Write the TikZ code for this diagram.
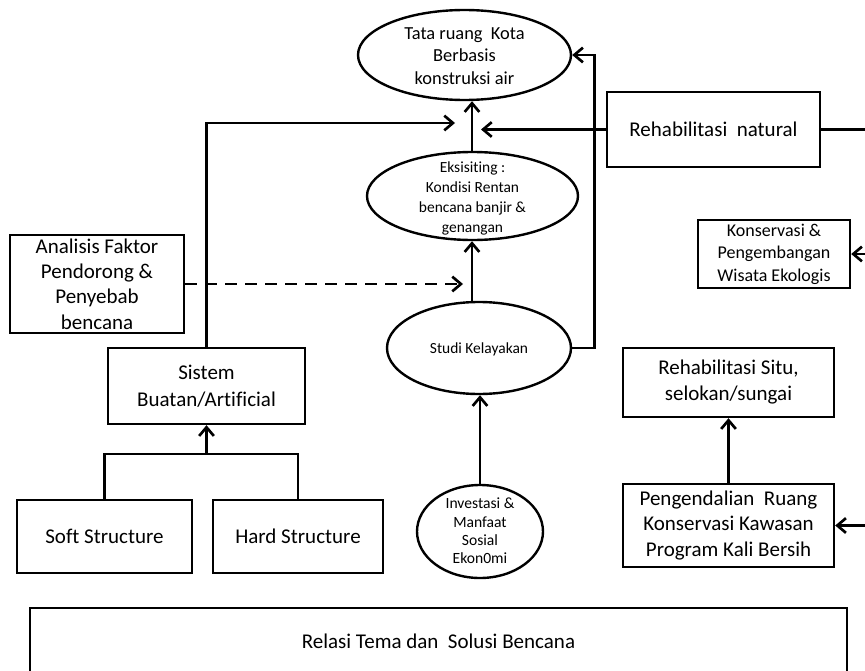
\documentclass[tikz,border=0pt]{standalone}
\usepackage{fontspec}
\setmainfont{Carlito}[Ligatures={NoCommon,NoRequired,NoContextual}]
\usetikzlibrary{shapes.geometric,arrows.meta}
\begin{document}
\begin{tikzpicture}[x=0.75pt,y=-0.75pt,
  every node/.style={inner sep=0pt, align=center},
  big/.style={font=\fontsize{15.75}{19.5}\selectfont},
  small/.style={font=\fontsize{11.6}{14.6}\selectfont},
  boxst/.style={draw, line width=1.8pt, rectangle},
  ellst/.style={draw, line width=1.8pt, ellipse},
  conn/.style={line width=2pt},
  arr/.style={conn, -{Straight Barb[length=6.5pt,width=11pt,line width=2pt]}},
  dashline/.style={conn, dash pattern=on 9pt off 6pt, -{Straight Barb[length=6.5pt,width=11pt,line width=2pt]}},
]
\useasboundingbox (0,0) rectangle (865,671);

% ellipses
\node[ellst, minimum width=213*0.75pt, minimum height=90*0.75pt] (tata) at (464.5,55) {};
\node[font=\fontsize{13.8}{17}\selectfont] (tatat) at (464.5,56) {Tata ruang\ \ Kota\\Berbasis\\konstruksi air};

\node[ellst, minimum width=211*0.75pt, minimum height=88*0.75pt] (eks) at (472.5,196) {};
\node[font=\fontsize{11.6}{15}\selectfont] (ekst) at (472.5,198) {Eksisiting :\\Kondisi Rentan\\bencana banjir \&\\genangan};

\node[ellst, minimum width=184*0.75pt, minimum height=92*0.75pt] (studi) at (479,348) {};
\node[small] (studit) at (479,349) {Studi Kelayakan};

\node[ellst, minimum width=126*0.75pt, minimum height=93*0.75pt] (inv) at (480,531.5) {};
\node[font=\fontsize{11.7}{13.8}\selectfont] (invt) at (480,531) {Investasi \&\\Manfaat\\Sosial\\Ekon0mi};

% boxes
\node[boxst, big, minimum width=213*0.75pt, minimum height=75*0.75pt] (rehabn) at (713.5,129.5) {Rehabilitasi\ \ natural};
\node[boxst, font=\fontsize{13.5}{16.9}\selectfont, minimum width=152*0.75pt, minimum height=68*0.75pt] (kons) at (774,254) {Konservasi \&\\Pengembangan\\Wisata Ekologis};
\node[boxst, big, minimum width=211*0.75pt, minimum height=69*0.75pt] (situ) at (728.5,382.5) {Rehabilitasi Situ,\\selokan/sungai};
\node[boxst, font=\fontsize{15.75}{19}\selectfont, minimum width=211*0.75pt, minimum height=83*0.75pt] (peng) at (728.5,525.5) {Pengendalian\ \ Ruang\\Konservasi Kawasan\\Program Kali Bersih};
\node[boxst, font=\fontsize{15.75}{19}\selectfont, minimum width=174*0.75pt, minimum height=98*0.75pt] (anal) at (97,284) {Analisis Faktor\\Pendorong \&\\Penyebab\\bencana};
\node[boxst, font=\fontsize{15.75}{20}\selectfont, minimum width=197*0.75pt, minimum height=76*0.75pt] (sistem) at (206.5,386) {Sistem\\Buatan/Artificial};
\node[boxst, big, minimum width=175*0.75pt, minimum height=73*0.75pt] (soft) at (104.5,536.5) {Soft Structure};
\node[boxst, big, minimum width=170*0.75pt, minimum height=73*0.75pt] (hard) at (298,536.5) {Hard Structure};
\node[boxst, big, minimum width=817*0.75pt, minimum height=66*0.75pt] (relasi) at (438.5,641) {Relasi Tema dan\ \ Solusi Bencana};

% free ends
\coordinate (rn) at (481,129.5);
\coordinate (sa) at (455,123);
\coordinate (da) at (463,284);
\coordinate (e1) at (867,129.5);
\coordinate (e2) at (867,254);
\coordinate (e3) at (867,525.5);
\coordinate (j) at (206.5,454);

% connectors
\draw[arr] (eks.north -| 472,0) -- (tata.south -| 472,0);
\draw[arr] (472,0 |- studi.north) -- (472,0 |- eks.south);
\draw[arr] (inv.north) -- (inv.north |- studi.south);
\draw[arr] (studi.east) -- ++(22,0) |- (tata.east);
\draw[arr] (rehabn.west) -- (rn);
\draw[conn] (rehabn.east) -- (e1);
\draw[arr] (e2) -- (kons.east);
\draw[arr] (e3) -- (peng.east);
\draw[arr] (peng.north) -- (situ.south);
\draw[arr] (sistem.north) |- (sa);
\draw[dashline] (anal.east) -- (da);
\draw[conn] (soft.north) |- (j) -| (hard.north);
\draw[arr] (j) -- (sistem.south);
\end{tikzpicture}
\end{document}
